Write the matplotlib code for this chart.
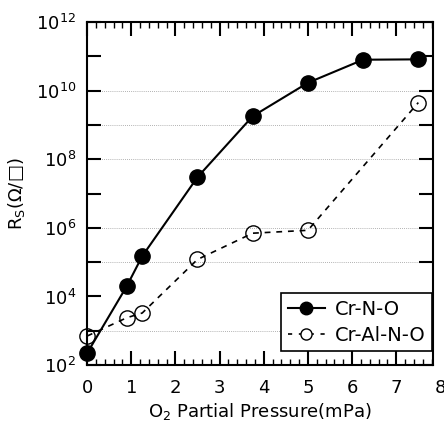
import numpy as np
import matplotlib
matplotlib.use('Agg')
import matplotlib.pyplot as plt
import matplotlib.transforms as mtransforms
from matplotlib.lines import Line2D
from matplotlib.ticker import MultipleLocator, NullLocator

# data
x_crno = [0, 0.9, 1.25, 2.5, 3.75, 5.0, 6.25, 7.5]
rs_crno = [2.2e2, 2.0e4, 1.5e5, 3.0e7, 1.8e9, 1.7e10, 8.0e10, 8.2e10]

x_cralno = [0, 0.9, 1.25, 2.5, 3.75, 5.0, 7.5]
rs_cralno = [7.0e2, 2.4e3, 3.3e3, 1.2e5, 7.0e5, 8.5e5, 4.5e9]

y_decades = [1e2, 1e3, 1e4, 1e5, 1e6, 1e7, 1e8, 1e9, 1e10, 1e11, 1e12]
y_labels = ['$10^2$', '', '$10^4$', '', '$10^6$', '', '$10^8$', '',
            '$10^{10}$', '', '$10^{12}$']
grid_levels = [1e3, 1e5, 1e6, 1e8, 1e9, 1e10]
x_major = [0, 1, 2, 3, 4, 5, 6, 7]

plt.rcParams['font.family'] = 'DejaVu Sans'
plt.rcParams['mathtext.default'] = 'regular'

fig = plt.figure(figsize=(4.44, 4.25), dpi=100)
ax = fig.add_axes([0.196, 0.141, 0.779, 0.807])

for g in grid_levels:
    ax.axhline(g, color='#999999', lw=0.6, ls=(0, (1, 1.5)), zorder=0)

ax.plot(x_crno, rs_crno, '-o', color='k', lw=1.5, ms=11,
        mfc='k', mec='k', clip_on=False, zorder=3)
ax.plot(x_cralno, rs_cralno, '--o', color='k', lw=1.2, ms=11,
        mfc='none', mec='k', mew=1.0, dashes=(3.5, 3.5), clip_on=False, zorder=2)

ax.set_yscale('log')
ax.set_ylim(1e2, 1e12)
ax.set_xlim(0, 7.83)

ax.set_yticks(y_decades)
ax.set_yticklabels(y_labels)
ax.yaxis.set_minor_locator(NullLocator())
ax.set_xticks(x_major)
ax.xaxis.set_minor_locator(MultipleLocator(0.2))

ax.tick_params(axis='both', which='major', direction='in', length=10,
               width=1.5, labelsize=13, top=True, right=True)
ax.tick_params(axis='x', which='major', pad=10)
ax.tick_params(axis='y', which='major', pad=8)
ax.tick_params(axis='both', which='minor', direction='in', length=4,
               width=1.0, top=True, right=True)

# the "8" label sits just beyond the right spine in the original
trans = mtransforms.blended_transform_factory(ax.transData, ax.transAxes)
trans = mtransforms.offset_copy(trans, fig=fig, y=-10, units='points')
ax.text(8, 0, '8', transform=trans, ha='center', va='top',
        fontsize=13, clip_on=False)

for s in ax.spines.values():
    s.set_linewidth(1.5)

ax.set_xlabel('O$_2$ Partial Pressure(mPa)', fontsize=13, labelpad=3)
ax.set_ylabel('R$_S$(\u03a9/\u25a1)', fontsize=13, labelpad=6)

legend_elements = [
    Line2D([0], [0], color='k', lw=1.5, marker='o', ms=9, mfc='k',
           label='Cr-N-O'),
    Line2D([0], [0], color='k', lw=1.2, ls='--', dashes=(2.5, 4), marker='o',
           ms=8, mfc='white', label='Cr-Al-N-O'),
]
leg = ax.legend(handles=legend_elements, loc='lower right', fontsize=14,
                fancybox=False, framealpha=1, edgecolor='k',
                bbox_to_anchor=(0.998, 0.04), borderaxespad=0,
                handlelength=1.9, borderpad=0.35, labelspacing=0.35,
                handletextpad=0.5)
leg.get_frame().set_linewidth(1.2)

fig.savefig('out.png', dpi=100)
plt.close(fig)
